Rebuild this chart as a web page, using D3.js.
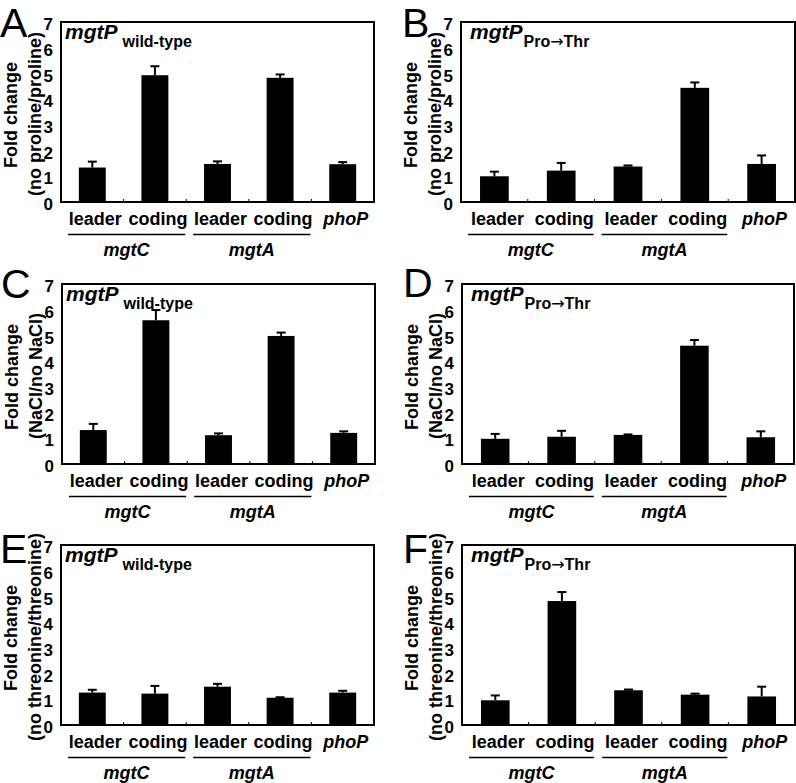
<!DOCTYPE html>
<html>
<head>
<meta charset="utf-8">
<script src="https://cdn.jsdelivr.net/npm/d3@7"></script>
<style>
  html, body { margin: 0; padding: 0; background: #fff; }
  svg { display: block; }
  text { font-family: "Liberation Sans", Arial, Helvetica, sans-serif; fill: #000; }
</style>
</head>
<body>
<svg id="chart" width="796" height="783"></svg>
<script>
// ---------------- data ----------------
const categories = ["leader", "coding", "leader", "coding", "phoP"];
const categoryItalic = [false, false, false, false, true];
const genes = ["mgtC", "mgtA"];
const yTicks = [0, 1, 2, 3, 4, 5, 6, 7];

const panelLetters = ["A", "B", "C", "D", "E", "F"];
const strainLabels = ["wild-type", "Pro\u2192Thr", "wild-type", "Pro\u2192Thr", "wild-type", "Pro\u2192Thr"];
const yTitles = ["(no proline/proline)", "(no proline/proline)", "(NaCl/no NaCl)", "(NaCl/no NaCl)",
                 "(no threonine/threonine)", "(no threonine/threonine)"];

const valuesA = [1.34, 4.93, 1.48, 4.83, 1.47];
const errorsA = [0.23, 0.35, 0.10, 0.13, 0.08];
const valuesB = [1.00, 1.22, 1.38, 4.44, 1.48];
const errorsB = [0.18, 0.30, 0.04, 0.21, 0.33];
const valuesC = [1.32, 5.59, 1.12, 4.98, 1.21];
const errorsC = [0.24, 0.40, 0.07, 0.13, 0.06];
const valuesD = [0.98, 1.06, 1.13, 4.60, 1.04];
const errorsD = [0.19, 0.23, 0.02, 0.22, 0.23];
const valuesE = [1.26, 1.22, 1.49, 1.06, 1.26];
const errorsE = [0.11, 0.30, 0.11, 0.02, 0.07];
const valuesF = [0.96, 4.82, 1.35, 1.18, 1.11];
const errorsF = [0.19, 0.35, 0.03, 0.04, 0.38];

const allValues = [valuesA, valuesB, valuesC, valuesD, valuesE, valuesF];
const allErrors = [errorsA, errorsB, errorsC, errorsD, errorsE, errorsF];

// ---------------- layout ----------------
const frames = [
  {x0: 61,  x1: 374, y0: 22,  y1: 202, ly: 37},
  {x0: 461, x1: 795, y0: 22,  y1: 202, ly: 37},
  {x0: 62,  x1: 375, y0: 284, y1: 464, ly: 298},
  {x0: 462, x1: 794, y0: 284, y1: 464, ly: 297},
  {x0: 61,  x1: 374, y0: 545, y1: 725, ly: 563},
  {x0: 462, x1: 795, y0: 545, y1: 725, ly: 563}
];

const svg = d3.select("#chart");

frames.forEach((f, i) => {
  const g = svg.append("g");
  const x = d3.scaleBand().domain(d3.range(categories.length)).range([f.x0, f.x1]).paddingInner(0.57).paddingOuter(0.285);
  const xb = d3.scaleBand().domain(d3.range(categories.length)).range([f.x0, f.x1]);
  const y = d3.scaleLinear().domain([0, 7]).range([f.y1, f.y0]);
  const vals = allValues[i], errs = allErrors[i];

  // bars
  g.selectAll("rect.bar").data(vals).join("rect")
    .attr("x", (d, k) => x(k)).attr("width", x.bandwidth())
    .attr("y", d => y(d)).attr("height", d => y(0) - y(d))
    .attr("fill", "#000");

  // error bars (upper)
  vals.forEach((v, k) => {
    const cx = x(k) + x.bandwidth() / 2;
    g.append("line").attr("x1", cx).attr("x2", cx)
      .attr("y1", y(v)).attr("y2", y(v + errs[k]))
      .attr("stroke", "#000").attr("stroke-width", 2);
    g.append("line").attr("x1", cx - 4.5).attr("x2", cx + 4.5)
      .attr("y1", y(v + errs[k])).attr("y2", y(v + errs[k]))
      .attr("stroke", "#000").attr("stroke-width", 2);
  });

  // small ticks at band boundaries on bottom axis
  d3.range(1, categories.length).forEach(k => {
    g.append("line").attr("x1", xb(k)).attr("x2", xb(k))
      .attr("y1", f.y1).attr("y2", f.y1 - 3)
      .attr("stroke", "#000").attr("stroke-width", 1);
  });

  // frame
  g.append("rect").attr("x", f.x0).attr("y", f.y0)
    .attr("width", f.x1 - f.x0).attr("height", f.y1 - f.y0)
    .attr("fill", "none").attr("stroke", "#000").attr("stroke-width", 2);

  // y tick labels
  const yAxis = d3.axisLeft(y).tickValues(yTicks).tickSize(0).tickPadding(8).tickFormat(d3.format("d"));
  const ax = g.append("g").attr("transform", `translate(${f.x0},0)`).call(yAxis);
  ax.select(".domain").remove();
  ax.selectAll("text").attr("font-size", 17).attr("font-weight", "bold")
    .attr("font-family", '"Liberation Sans", Arial, sans-serif').attr("dy", "0.45em");

  // y title (two lines, rotated)
  const cy = (f.y0 + f.y1) / 2;
  g.append("text").attr("transform", `translate(${f.x0 - 44},${cy + 3}) rotate(-90)`)
    .attr("text-anchor", "middle").attr("font-size", 18).attr("font-weight", "bold")
    .text("Fold change");
  g.append("text").attr("transform", `translate(${f.x0 - 20},${cy + 2}) rotate(-90)`)
    .attr("text-anchor", "middle").attr("font-size", 18).attr("font-weight", "bold")
    .text(yTitles[i]);

  // category labels
  categories.forEach((c, k) => {
    g.append("text").attr("x", xb(k) + xb.bandwidth() / 2 + 3).attr("y", f.y1 + 23)
      .attr("text-anchor", "middle").attr("font-size", 18).attr("font-weight", "bold")
      .attr("font-style", categoryItalic[k] ? "italic" : "normal")
      .text(c);
  });

  // gene group underline + label
  genes.forEach((gn, j) => {
    const a = xb(2 * j) + 7, b = xb(2 * j + 1) + xb.bandwidth() - 1;
    g.append("line").attr("x1", a).attr("x2", b)
      .attr("y1", f.y1 + 32.5).attr("y2", f.y1 + 32.5)
      .attr("stroke", "#000").attr("stroke-width", 1.6);
    g.append("text").attr("x", (a + b) / 2).attr("y", f.y1 + 54)
      .attr("text-anchor", "middle").attr("font-size", 18).attr("font-weight", "bold")
      .attr("font-style", "italic").text(gn);
  });

  // inset title
  const isMut = i % 2 === 1;
  const t = g.append("text").attr("x", f.x0 + (isMut ? 9 : 4)).attr("y", f.y0 + 17)
    .attr("font-weight", "bold");
  t.append("tspan").attr("font-size", 21).attr("font-style", "italic").text("mgtP");
  if (isMut) {
    const parts = strainLabels[i].split("\u2192");
    t.append("tspan").attr("font-size", 16).attr("dx", 1).attr("dy", 8).text(parts[0]);
    t.append("tspan").attr("font-size", 16).attr("font-family", '"DejaVu Sans", sans-serif')
      .attr("font-weight", "normal").text("\u2192");
    t.append("tspan").attr("font-size", 16).text(parts[1]);
  } else {
    t.append("tspan").attr("font-size", 16).attr("dx", 5).attr("dy", 8).text(strainLabels[i]);
  }

  // panel letter
  g.append("text").attr("x", f.x0 - (isMut ? 59 : 61)).attr("y", f.ly)
    .attr("font-size", 41).text(panelLetters[i]);
});
</script>
</body>
</html>
